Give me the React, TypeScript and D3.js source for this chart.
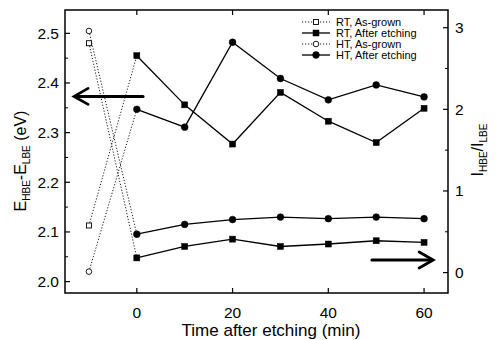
import React from "react";
import * as d3 from "d3";

// time after etching (min); as-grown samples are drawn at -10
const times = [0, 10, 20, 30, 40, 50, 60];
const asGrownTime = -10;

// left axis: E_HBE - E_LBE (eV)
const rtEnergy = [2.455, 2.356, 2.277, 2.381, 2.323, 2.28, 2.349];
const htEnergy = [2.347, 2.311, 2.482, 2.409, 2.366, 2.396, 2.372];
// right axis: I_HBE / I_LBE
const rtRatio = [0.18, 0.32, 0.41, 0.32, 0.35, 0.39, 0.37];
const htRatio = [0.47, 0.59, 0.65, 0.68, 0.66, 0.68, 0.66];

// as-grown values, order: RT, HT
const asGrownEnergy = [2.113, 2.02];
const asGrownRatio = [2.81, 2.96];

const xTicks = [0, 20, 40, 60];
const leftTicks = [2.0, 2.1, 2.2, 2.3, 2.4, 2.5];
const leftMinor = [2.05, 2.15, 2.25, 2.35, 2.45];
const rightTicks = [0, 1, 2, 3];
const rightMinor = [0.5, 1.5, 2.5];
const legendLabels = ["RT, As-grown", "RT, After etching", "HT, As-grown", "HT, After etching"];

const W = 496;
const H = 340;
const m = { left: 65, right: 448, top: 10, bottom: 293 };

const font = "'Liberation Sans', Arial, sans-serif";

function Square({ cx, cy, open }: { cx: number; cy: number; open?: boolean }) {
  const s = open ? 5 : 6;
  return (
    <rect
      x={cx - s / 2}
      y={cy - s / 2}
      width={s}
      height={s}
      fill={open ? "#fff" : "#000"}
      stroke="#000"
      strokeWidth={open ? 0.9 : 0.5}
    />
  );
}

function Dot({ cx, cy, open }: { cx: number; cy: number; open?: boolean }) {
  return (
    <circle
      cx={cx}
      cy={cy}
      r={open ? 2.8 : 3.4}
      fill={open ? "#fff" : "#000"}
      stroke="#000"
      strokeWidth={open ? 0.9 : 0.5}
    />
  );
}

export default function App() {
  const x = d3.scaleLinear().domain([-15, 65]).range([m.left, m.right]);
  const yL = d3.scaleLinear().domain([1.977, 2.547]).range([m.bottom, m.top]);
  const yR = d3.scaleLinear().domain([-0.25, 3.217]).range([m.bottom, m.top]);

  const lineL = d3
    .line<number>()
    .x((_, i) => x(times[i]))
    .y((d) => yL(d));
  const lineR = d3
    .line<number>()
    .x((_, i) => x(times[i]))
    .y((d) => yR(d));

  // dotted links from the as-grown point to the first after-etching point
  const links = [
    { x1: x(asGrownTime), y1: yL(asGrownEnergy[0]), x2: x(0), y2: yL(rtEnergy[0]) },
    { x1: x(asGrownTime), y1: yL(asGrownEnergy[1]), x2: x(0), y2: yL(htEnergy[0]) },
    { x1: x(asGrownTime), y1: yR(asGrownRatio[0]), x2: x(0), y2: yR(rtRatio[0]) },
    { x1: x(asGrownTime), y1: yR(asGrownRatio[1]), x2: x(0), y2: yR(htRatio[0]) },
  ];

  // arrows pointing to the axis each group belongs to
  const la = { y: yL(2.373), tip: x(-13.1), tail: x(1.3) };
  const ra = { y: yR(0.155), tip: x(61.9), tail: x(49.1) };

  const tick = 5;
  const legX = 302;
  const legY = [22, 33, 44, 55];

  return (
    <svg width={W} height={H} style={{ position: "absolute", left: 0, top: 0, background: "#fff" }}>
      <g fontFamily={font} fill="#000">
        {/* frame */}
        <rect
          x={m.left}
          y={m.top}
          width={m.right - m.left}
          height={m.bottom - m.top}
          fill="none"
          stroke="#000"
          strokeWidth={1.5}
        />

        {/* bottom / top ticks */}
        {xTicks.map((t) => (
          <g key={"xt" + t}>
            <line x1={x(t)} x2={x(t)} y1={m.bottom} y2={m.bottom - tick} stroke="#000" strokeWidth={1.2} />
            <line x1={x(t)} x2={x(t)} y1={m.top} y2={m.top + tick} stroke="#000" strokeWidth={1.2} />
            <text x={x(t)} y={318} fontSize={15.5} textAnchor="middle">
              {t}
            </text>
          </g>
        ))}

        {/* left ticks */}
        {leftTicks.map((t) => (
          <g key={"lt" + t}>
            <line x1={m.left} x2={m.left + tick} y1={yL(t)} y2={yL(t)} stroke="#000" strokeWidth={1.2} />
            <text x={59} y={yL(t) + 5.5} fontSize={15.5} textAnchor="end">
              {t.toFixed(1)}
            </text>
          </g>
        ))}
        {leftMinor.map((t) => (
          <line key={"lm" + t} x1={m.left} x2={m.left + 3} y1={yL(t)} y2={yL(t)} stroke="#000" strokeWidth={1} />
        ))}

        {/* right ticks */}
        {rightTicks.map((t) => (
          <g key={"rt" + t}>
            <line x1={m.right} x2={m.right - tick} y1={yR(t)} y2={yR(t)} stroke="#000" strokeWidth={1.2} />
            <text x={455} y={yR(t) + 5.5} fontSize={15.5}>
              {t}
            </text>
          </g>
        ))}
        {rightMinor.map((t) => (
          <line key={"rm" + t} x1={m.right} x2={m.right - 3} y1={yR(t)} y2={yR(t)} stroke="#000" strokeWidth={1} />
        ))}

        {/* axis titles */}
        <text x={271} y={336} fontSize={17} textAnchor="middle">
          Time after etching (min)
        </text>
        <text transform="translate(26,161) rotate(-90)" fontSize={16} textAnchor="middle">
          E
          <tspan fontSize={10} dy={4}>HBE</tspan>
          <tspan dy={-4}>-E</tspan>
          <tspan fontSize={10} dy={4}>LBE</tspan>
          <tspan dy={-4}> (eV)</tspan>
        </text>
        <text transform="translate(483,150) rotate(-90)" fontSize={16} textAnchor="middle">
          I
          <tspan fontSize={10} dy={4}>HBE</tspan>
          <tspan dy={-4}>/I</tspan>
          <tspan fontSize={10} dy={4}>LBE</tspan>
        </text>

        {/* dotted as-grown links */}
        {links.map((l, i) => (
          <line
            key={"ln" + i}
            x1={l.x1}
            y1={l.y1}
            x2={l.x2}
            y2={l.y2}
            stroke="#000"
            strokeWidth={0.9}
            strokeDasharray="1.2 1.8"
          />
        ))}

        {/* after etching lines */}
        <path d={lineL(rtEnergy) || ""} fill="none" stroke="#000" strokeWidth={1.3} />
        <path d={lineL(htEnergy) || ""} fill="none" stroke="#000" strokeWidth={1.3} />
        <path d={lineR(rtRatio) || ""} fill="none" stroke="#000" strokeWidth={1.3} />
        <path d={lineR(htRatio) || ""} fill="none" stroke="#000" strokeWidth={1.3} />

        {rtEnergy.map((d, i) => (
          <Square key={"rte" + i} cx={x(times[i])} cy={yL(d)} />
        ))}
        {rtRatio.map((d, i) => (
          <Square key={"rtr" + i} cx={x(times[i])} cy={yR(d)} />
        ))}
        {htEnergy.map((d, i) => (
          <Dot key={"hte" + i} cx={x(times[i])} cy={yL(d)} />
        ))}
        {htRatio.map((d, i) => (
          <Dot key={"htr" + i} cx={x(times[i])} cy={yR(d)} />
        ))}

        {/* as-grown markers */}
        <Square cx={x(asGrownTime)} cy={yL(asGrownEnergy[0])} open />
        <Square cx={x(asGrownTime)} cy={yR(asGrownRatio[0])} open />
        <Dot cx={x(asGrownTime)} cy={yL(asGrownEnergy[1])} open />
        <Dot cx={x(asGrownTime)} cy={yR(asGrownRatio[1])} open />

        {/* arrows */}
        <g stroke="#000" fill="none" strokeLinecap="round">
          <line x1={la.tail} x2={la.tip + 1} y1={la.y} y2={la.y} strokeWidth={3} />
          <polyline
            points={`${la.tip + 14},${la.y - 8} ${la.tip},${la.y} ${la.tip + 14},${la.y + 8}`}
            strokeWidth={2.8}
            strokeLinejoin="miter"
          />
          <line x1={ra.tail} x2={ra.tip - 1} y1={ra.y} y2={ra.y} strokeWidth={3} />
          <polyline
            points={`${ra.tip - 14},${ra.y - 8} ${ra.tip},${ra.y} ${ra.tip - 14},${ra.y + 8}`}
            strokeWidth={2.8}
            strokeLinejoin="miter"
          />
        </g>

        {/* legend */}
        {legendLabels.map((lab, i) => {
          const asGrown = i % 2 === 0;
          const cy = legY[i];
          return (
            <g key={"lg" + i}>
              <line
                x1={legX}
                x2={legX + 28}
                y1={cy}
                y2={cy}
                stroke="#000"
                strokeWidth={asGrown ? 0.9 : 1.3}
                strokeDasharray={asGrown ? "1.2 1.8" : undefined}
              />
              {i < 2 ? <Square cx={legX + 14} cy={cy} open={asGrown} /> : <Dot cx={legX + 14} cy={cy} open={asGrown} />}
              <text x={legX + 34} y={cy + 4} fontSize={11}>
                {lab}
              </text>
            </g>
          );
        })}
      </g>
    </svg>
  );
}
